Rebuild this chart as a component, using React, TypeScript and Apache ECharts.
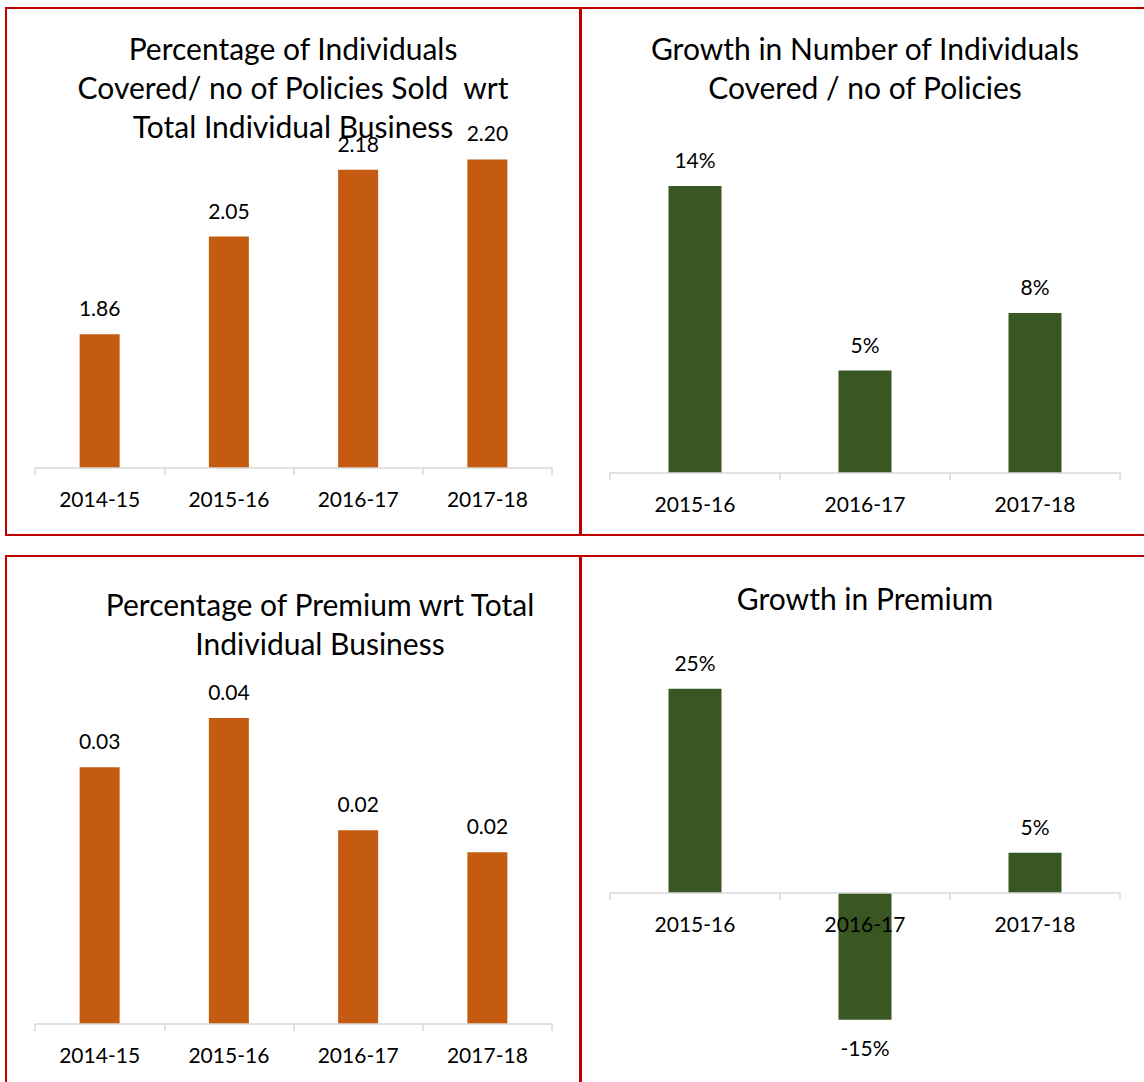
import React, { useEffect, useRef } from "react";
import * as echarts from "echarts";

// ---- data ----
const CATEGORIES_SHARE = ["2014-15", "2015-16", "2016-17", "2017-18"];
const CATEGORIES_GROWTH = ["2015-16", "2016-17", "2017-18"];

const INDIVIDUALS_SHARE = [1.86, 2.05, 2.18, 2.2];
const INDIVIDUALS_GROWTH = [0.14, 0.05, 0.078];
const PREMIUM_SHARE = [0.0302, 0.036, 0.0228, 0.0202];
const PREMIUM_GROWTH = [0.248, -0.154, 0.049];

const TITLE_1 = ["Percentage of Individuals", "Covered/ no of Policies Sold  wrt", "Total Individual Business"];
const TITLE_2 = ["Growth in Number of Individuals", "Covered / no of Policies"];
const TITLE_3 = ["Percentage of Premium wrt Total", "Individual Business"];
const TITLE_4 = ["Growth in Premium"];

const FONT = "Lato";
const ORANGE = "#C55A11";
const GREEN = "#385723";
const RED = "#C00000";
const AXIS_GREY = "#D9D9D9";

const fmtDec = (v: number) => v.toFixed(2);
const fmtPct = (v: number) => Math.round(v * 100) + "%";

export default function App() {
  const ref = useRef<HTMLDivElement>(null);

  useEffect(() => {
    if (!ref.current) return;
    const chart = echarts.init(ref.current, null, { renderer: "svg" });

    const titleLines = (lines: string[], cx: number, y0: number, step: number) =>
      lines.map((t, i) => ({
        type: "text",
        x: cx,
        y: y0 + i * step,
        z: 20,
        style: {
          text: t,
          fill: "#000",
          font: `30px ${FONT}`,
          textAlign: "center",
          textVerticalAlign: "middle",
        },
      }));

    const rect = (x: number, y: number, w: number, h: number) => ({
      type: "rect",
      shape: { x, y, width: w, height: h },
      style: { fill: RED },
      z: 30,
    });

    const xAxis = (gridIndex: number, data: string[]) => ({
      type: "category",
      gridIndex,
      data,
      z: 10,
      axisLine: { show: true, onZero: false, lineStyle: { color: AXIS_GREY, width: 1.5 } },
      axisTick: { show: true, length: 7, interval: 0, lineStyle: { color: AXIS_GREY, width: 1.5 } },
      axisLabel: { fontFamily: FONT, fontSize: 21, color: "#000", margin: 20, interval: 0 },
      splitLine: { show: false },
    });

    const yAxis = (gridIndex: number, min: number, max: number) => ({
      type: "value",
      gridIndex,
      min,
      max,
      show: false,
      splitLine: { show: false },
    });

    const barSeries = (
      idx: number,
      values: number[],
      color: string,
      width: number,
      fmt: (v: number) => string,
      clip: boolean
    ) => ({
      type: "bar",
      xAxisIndex: idx,
      yAxisIndex: idx,
      barWidth: width,
      clip,
      itemStyle: { color },
      data: values.map((v) => ({
        value: v,
        label: {
          show: true,
          position: v < 0 ? "bottom" : "top",
          distance: v < 0 ? 17 : 16,
          formatter: () => fmt(v),
          fontFamily: FONT,
          fontSize: 21,
          color: "#000",
        },
      })),
    });

    const grid = (left: number, top: number, width: number, height: number) => ({
      left,
      top,
      width,
      height,
      containLabel: false,
      outerBoundsMode: "none",
    });

    chart.setOption({
      animation: false,
      backgroundColor: "#fff",
      grid: [
        grid(35, 108, 517, 360),
        grid(610, 145, 510, 328),
        grid(35, 684, 517, 340),
        grid(610, 646, 510, 247),
      ],
      xAxis: [
        xAxis(0, CATEGORIES_SHARE),
        xAxis(1, CATEGORIES_GROWTH),
        xAxis(2, CATEGORIES_SHARE),
        xAxis(3, CATEGORIES_GROWTH),
      ],
      yAxis: [yAxis(0, 1.6, 2.3), yAxis(1, 0, 0.16), yAxis(2, 0, 0.04), yAxis(3, 0, 0.3)],
      series: [
        barSeries(0, INDIVIDUALS_SHARE, ORANGE, 40, fmtDec, true),
        barSeries(1, INDIVIDUALS_GROWTH, GREEN, 53, fmtPct, true),
        barSeries(2, PREMIUM_SHARE, ORANGE, 40, fmtDec, true),
        barSeries(3, PREMIUM_GROWTH, GREEN, 53, fmtPct, false),
      ],
      graphic: [
        ...titleLines(TITLE_1, 293, 48, 39),
        ...titleLines(TITLE_2, 865, 48, 39),
        ...titleLines(TITLE_3, 320, 604, 39),
        ...titleLines(TITLE_4, 865, 598, 39),
        rect(5, 7, 1139, 2),
        rect(5, 7, 2, 529),
        rect(579, 7, 3, 529),
        rect(5, 534, 1139, 2),
        rect(5, 555, 1139, 2),
        rect(5, 555, 2, 527),
        rect(579, 555, 3, 527),
      ],
    });

    return () => chart.dispose();
  }, []);

  return (
    <div
      ref={ref}
      style={{ position: "absolute", left: 0, top: 0, width: 1144, height: 1082 }}
    />
  );
}
